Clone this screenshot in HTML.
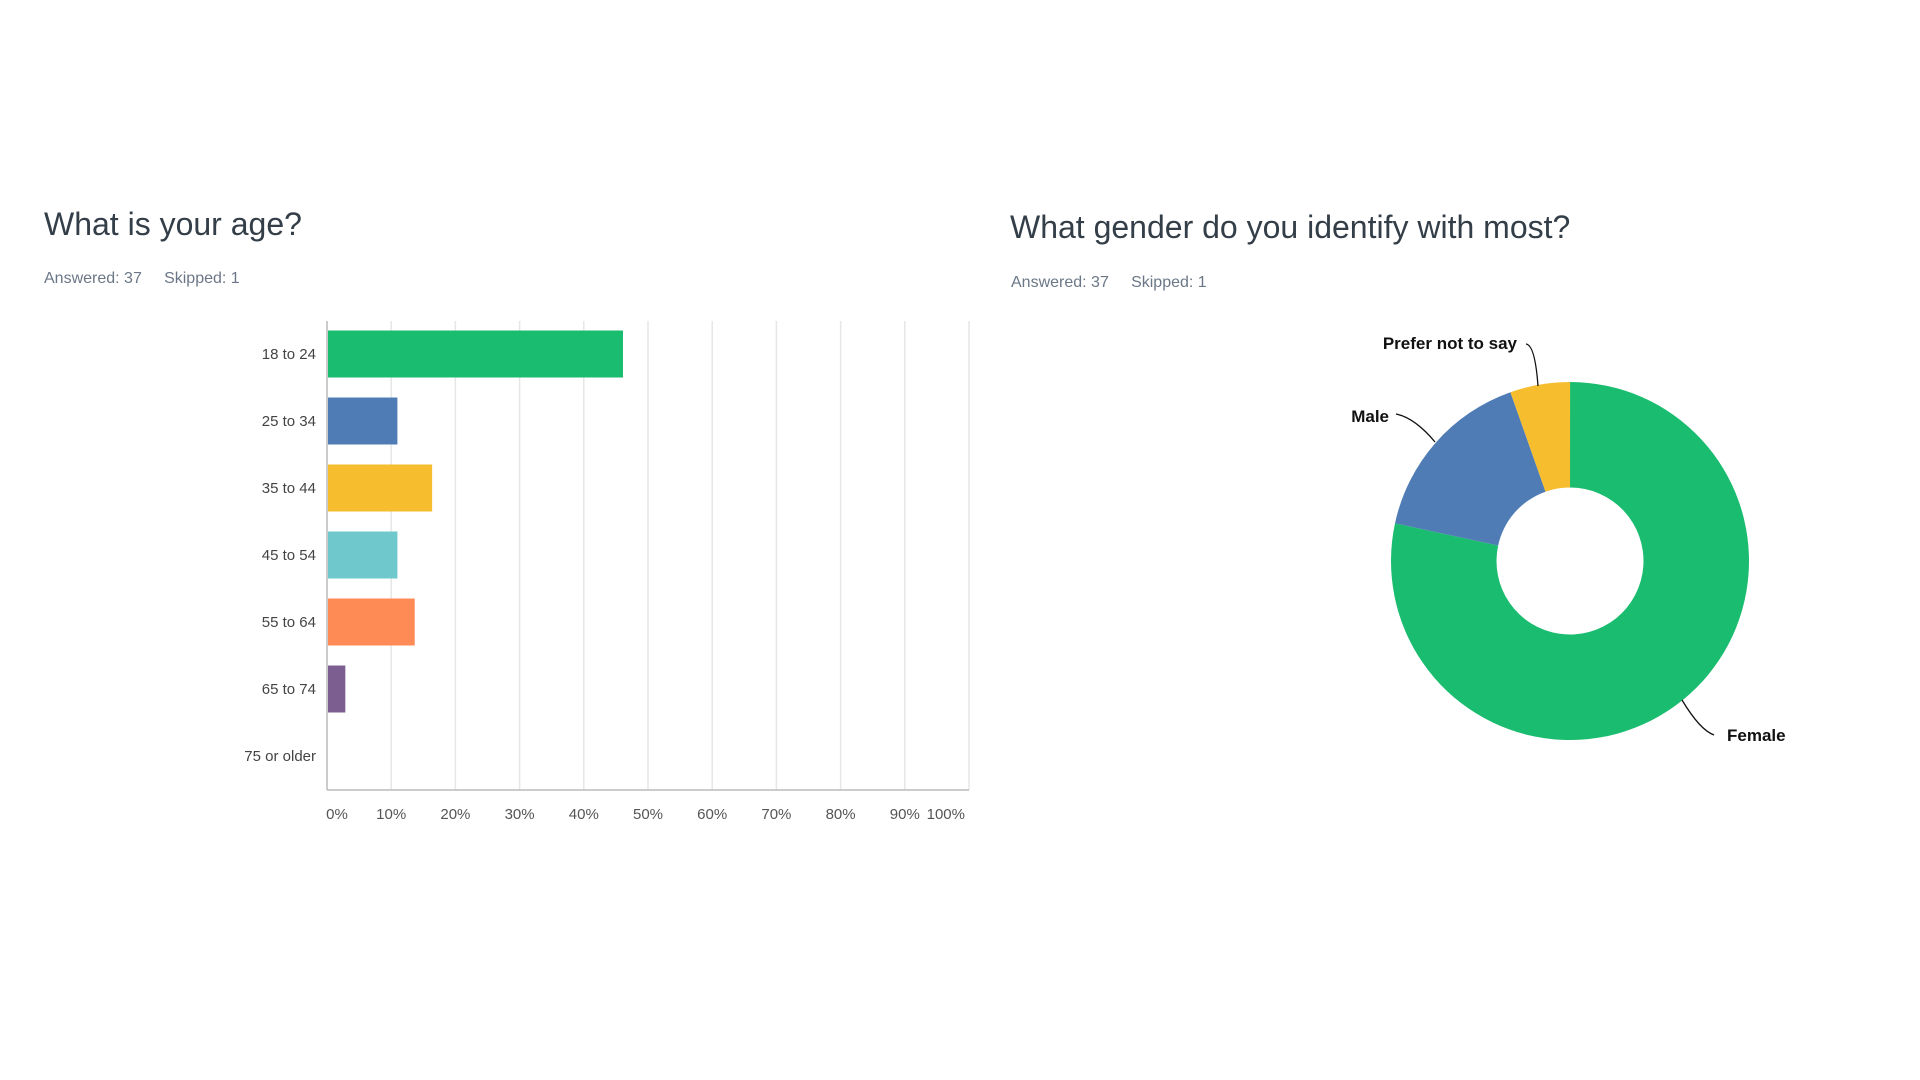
<!DOCTYPE html>
<html><head><meta charset="utf-8"><style>
body{margin:0;width:1920px;height:1080px;background:#fff;font-family:"Liberation Sans",sans-serif;overflow:hidden;position:relative}
.t{position:absolute;color:#333e48;font-size:32px;font-weight:300;white-space:nowrap}
.m{position:absolute;color:#6b7787;font-size:16px;white-space:nowrap}
</style></head><body>
<div class="t" style="left:44px;top:206px">What is your age?</div>
<div class="m" style="left:44px;top:270px">Answered: 37&nbsp;&nbsp;&nbsp;&nbsp;&nbsp;Skipped: 1</div>
<div class="t" style="left:1010px;top:209px">What gender do you identify with most?</div>
<div class="m" style="left:1011px;top:274px">Answered: 37&nbsp;&nbsp;&nbsp;&nbsp;&nbsp;Skipped: 1</div>
<svg id="bar" width="1920" height="1080" style="position:absolute;left:0;top:0"></svg>
<script>
const categories=["18 to 24","25 to 34","35 to 44","45 to 54","55 to 64","65 to 74","75 or older"];
const values=[45.95,10.81,16.22,10.81,13.51,2.70,0];
const colors=["#1abc6f","#507cb6","#f6bd2e","#6fc8cb","#fe8b55","#7d5e91","#999"];
const ticks=["0%","10%","20%","30%","40%","50%","60%","70%","80%","90%","100%"];
const genders=["Female","Male","Prefer not to say"];
const genderValues=[78.38,16.22,5.41];
const genderColors=["#1abc6f","#507cb6","#f6bd2e"];
const NS="http://www.w3.org/2000/svg";
const svg=document.getElementById('bar');
function mk(t,a,p){const e=document.createElementNS(NS,t);for(const k in a)e.setAttribute(k,a[k]);(p||svg).appendChild(e);return e;}
const x0=327,x1=969,yTop=321,yBot=790,step=67,bh=47,firstC=354;
const xs=v=>x0+(x1-x0)*v/100;
ticks.forEach((t,i)=>{const x=xs(i*10);
 const l=mk('line',{x1:x,x2:x,y1:yTop,y2:yBot,stroke:i==0?'#bbb':'#e6e6e6','stroke-width':1.5});
 
 const tx=mk('text',{x:i==10?x-4:x+(i==0?10:0),y:819,'text-anchor':i==10?'end':'middle','font-size':15,fill:'#555'});
 tx.textContent=t;});
const ax=mk('line',{x1:x0,x2:x1,y1:yBot,y2:yBot,stroke:'#bbb','stroke-width':1.5});

categories.forEach((c,i)=>{const cy=firstC+i*step;
 const lb=mk('text',{x:316,y:cy+5,'text-anchor':'end','font-size':15,fill:'#444'});lb.textContent=c;
 
 if(values[i]>0){const r=mk('rect',{x:x0+1,y:cy-bh/2,width:xs(values[i])-x0,height:bh,fill:colors[i]});
 }});
// donut
const cx=1570,cy=561,R=179,r=73.5;
let a=0;
genderValues.forEach((v,i)=>{const a2=a+v/100*2*Math.PI;
 const p=(ang,rad)=>[cx+rad*Math.sin(ang),cy-rad*Math.cos(ang)];
 const [ax1,ay1]=p(a,R),[ax2,ay2]=p(a2,R),[bx2,by2]=p(a2,r),[bx1,by1]=p(a,r);
 const lg=(a2-a)>Math.PI?1:0;
 const path=mk('path',{d:`M${ax1},${ay1}A${R},${R} 0 ${lg} 1 ${ax2},${ay2}L${bx2},${by2}A${r},${r} 0 ${lg} 0 ${bx1},${by1}Z`,fill:genderColors[i]});
 
 
 a=a2;});
const labs=[["Female",1727,741,"start","M1682,700 Q1700,730 1714,735"],["Male",1389,422,"end","M1396,414 Q1415,418 1435,442"],["Prefer not to say",1517,349,"end","M1526,344 Q1535,345 1538,386"]];
labs.forEach(l=>{const t=mk('text',{x:l[1],y:l[2],'text-anchor':l[3],'font-size':17,'font-weight':'bold',fill:'#111'});t.textContent=l[0];
 
 const ln=mk('path',{d:l[4],fill:'none',stroke:'#111','stroke-width':1.3});
 });
</script>
</body></html>
